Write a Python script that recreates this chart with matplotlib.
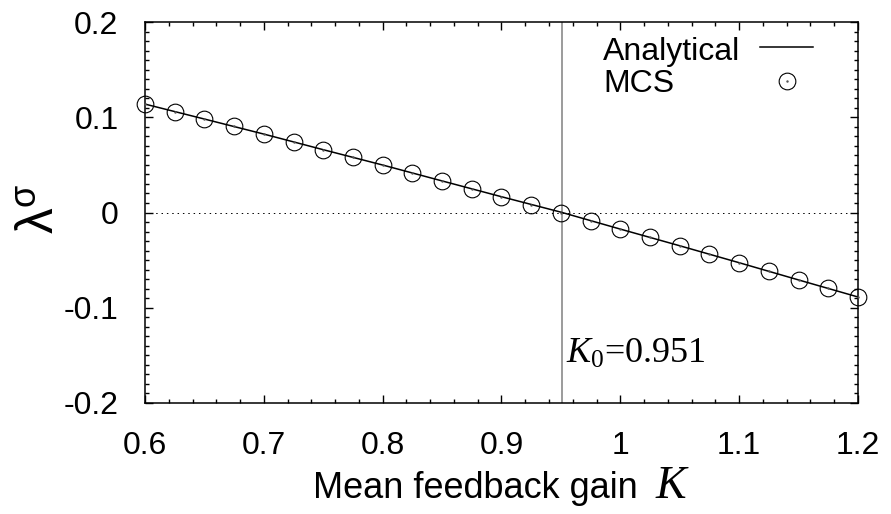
import matplotlib
matplotlib.use("Agg")
import matplotlib.pyplot as plt
from matplotlib.ticker import MultipleLocator, FuncFormatter

# analytical curve
K_analytical = [0.6, 0.65, 0.7, 0.75, 0.8, 0.85, 0.9, 0.95, 1.0, 1.05, 1.1, 1.15, 1.2]
lam_analytical = [0.1139, 0.0982, 0.0824, 0.0660, 0.0499, 0.0332, 0.0166, 0.0004,
                  -0.0174, -0.0349, -0.0527, -0.0708, -0.0887]

# Monte Carlo simulation points
K_mcs = [0.6, 0.625, 0.65, 0.675, 0.7, 0.725, 0.75, 0.775, 0.8, 0.825, 0.85, 0.875,
         0.9, 0.925, 0.95, 0.975, 1.0, 1.025, 1.05, 1.075, 1.1, 1.125, 1.15, 1.175, 1.2]
lam_mcs = [0.1139, 0.1058, 0.0982, 0.0905, 0.0824, 0.0740, 0.0659, 0.0580, 0.0499,
           0.0415, 0.0331, 0.0250, 0.0166, 0.0082, -0.0008, -0.0089, -0.0175, -0.0260,
           -0.0349, -0.0436, -0.0527, -0.0617, -0.0709, -0.0796, -0.0887]

K0 = 0.951

plt.rcParams['font.family'] = ['Liberation Sans', 'DejaVu Sans']
plt.rcParams['mathtext.fontset'] = 'custom'
plt.rcParams['mathtext.rm'] = 'Liberation Serif'
plt.rcParams['mathtext.it'] = 'Liberation Serif:italic'
plt.rcParams['mathtext.sf'] = 'Liberation Sans'
plt.rcParams['axes.unicode_minus'] = False

fig = plt.figure(figsize=(8.91, 5.14), dpi=100)
ax = fig.add_axes([0.1627, 0.216, 0.8003, 0.741])

ax.axhline(0, color='black', lw=0.7, ls=(0, (1.5, 4)), zorder=1)
ax.axvline(K0, color='#808080', lw=1.1, zorder=1)

ax.plot(K_analytical, lam_analytical, color='black', lw=1.1, zorder=3)
ax.plot(K_mcs, lam_mcs, ls='none', marker='o', ms=12, mfc='none', mec='black',
        mew=0.8, zorder=4, clip_on=False)
ax.plot(K_mcs, lam_mcs, ls='none', marker='.', ms=1.5, color='#555555', zorder=4,
        clip_on=False)

ax.set_xlim(0.6, 1.2)
ax.set_ylim(-0.2, 0.2)
ax.xaxis.set_major_locator(MultipleLocator(0.1))
ax.xaxis.set_minor_locator(MultipleLocator(0.02))
ax.yaxis.set_major_locator(MultipleLocator(0.1))
ax.yaxis.set_minor_locator(MultipleLocator(0.01))
fmt = FuncFormatter(lambda v, p: '%g' % round(v, 3))
ax.xaxis.set_major_formatter(fmt)
ax.yaxis.set_major_formatter(fmt)

ax.tick_params(which='both', direction='in', top=True, right=True, width=1.0,
               labelsize=23)
ax.tick_params(which='major', length=6)
ax.tick_params(which='minor', length=3)
ax.tick_params(axis='y', pad=19)
ax.tick_params(axis='x', pad=20)
for s in ax.spines.values():
    s.set_linewidth(1.1)

ax.set_ylabel(r'$\mathsf{\lambda}^{\mathsf{\sigma}}$', fontsize=37)
ax.yaxis.set_label_coords(-0.113, 0.51)

ax.text(0.2356, -0.249, 'Mean feedback gain', transform=ax.transAxes, fontsize=26,
        ha='left', va='baseline')
ax.text(0.715, -0.249, '$K$', transform=ax.transAxes, fontsize=33,
        ha='left', va='baseline')

ax.text(K0 + 0.003, -0.158, '$K_0$=0.951', family='Liberation Serif', fontsize=26,
        ha='left', va='baseline')

# gnuplot-style key: label on the left, sample on the right
ax.text(0.6424, 0.9003, 'Analytical', transform=ax.transAxes, fontsize=23,
        ha='left', va='baseline')
ax.text(0.6424, 0.8163, 'MCS', transform=ax.transAxes, fontsize=23,
        ha='left', va='baseline')
ax.plot([0.8626, 0.9369], [0.9344, 0.9344], transform=ax.transAxes, color='black',
        lw=1.1)
ax.plot([0.8999], [0.8451], transform=ax.transAxes, ls='none', marker='o', ms=12,
        mfc='none', mec='black', mew=0.8)
ax.plot([0.8999], [0.8451], transform=ax.transAxes, ls='none', marker='.', ms=1.5,
        color='#555555')

fig.savefig('out.png', dpi=100)
